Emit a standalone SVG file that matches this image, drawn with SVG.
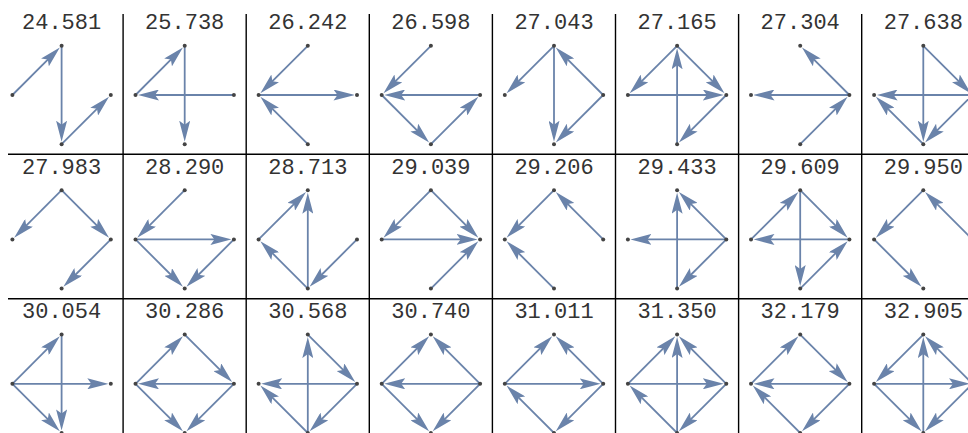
<svg xmlns="http://www.w3.org/2000/svg" xmlns:xlink="http://www.w3.org/1999/xlink" width="968" height="433" viewBox="0 0 968 433">
<style>
.lbl{font-family:"Liberation Mono","DejaVu Sans Mono",monospace;font-size:22px;fill:#333;text-anchor:middle}
.e{stroke:#6A83AA;stroke-width:1.8;fill:none;marker-end:url(#ah)}
.n{fill:#444}
.div{stroke:#000;stroke-width:1.4}
</style>
<defs>
<marker id="ah" markerUnits="userSpaceOnUse" viewBox="0 0 21 11" markerWidth="21" markerHeight="11" refX="11" refY="5.5" orient="auto">
<path d="M21,5.5 L0,0 L4,5.5 L0,11 Z" fill="#6A83AA"/>
</marker>
<g id="nodes">
<circle class="n" cx="0" cy="-49.2" r="2"/>
<circle class="n" cx="-49.2" cy="0" r="2"/>
<circle class="n" cx="49.2" cy="0" r="2"/>
<circle class="n" cx="0" cy="49.2" r="2"/>
</g>
</defs>
<g id="dividers">
<line class="div" x1="123.1" y1="14" x2="123.1" y2="433"/>
<line class="div" x1="246.2" y1="14" x2="246.2" y2="433"/>
<line class="div" x1="369.3" y1="14" x2="369.3" y2="433"/>
<line class="div" x1="492.4" y1="14" x2="492.4" y2="433"/>
<line class="div" x1="615.5" y1="14" x2="615.5" y2="433"/>
<line class="div" x1="738.6" y1="14" x2="738.6" y2="433"/>
<line class="div" x1="861.7" y1="14" x2="861.7" y2="433"/>
<line class="div" x1="8" y1="154.3" x2="968" y2="154.3"/>
<line class="div" x1="8" y1="298.7" x2="968" y2="298.7"/>
</g>

<!-- Row 1 -->
<g id="c1" transform="translate(61.6,95)">
<text class="lbl" x="0" y="-65.7">24.581</text>
<g class="connectors">
<line class="e" x1="-49.2" y1="0" x2="-8.84" y2="-40.36"/>
<line class="e" x1="0" y1="-49.2" x2="0" y2="36.7"/>
<line class="e" x1="0" y1="49.2" x2="40.36" y2="8.84"/>
</g>
<use xlink:href="#nodes"/>
</g>
<g id="c2" transform="translate(184.7,95)">
<text class="lbl" x="0" y="-65.7">25.738</text>
<g class="connectors">
<line class="e" x1="-49.2" y1="0" x2="-8.84" y2="-40.36"/>
<line class="e" x1="49.2" y1="0" x2="-36.7" y2="0"/>
<line class="e" x1="0" y1="-49.2" x2="0" y2="36.7"/>
</g>
<use xlink:href="#nodes"/>
</g>
<g id="c3" transform="translate(307.8,95)">
<text class="lbl" x="0" y="-65.7">26.242</text>
<g class="connectors">
<line class="e" x1="0" y1="-49.2" x2="-40.36" y2="-8.84"/>
<line class="e" x1="-49.2" y1="0" x2="36.7" y2="0"/>
<line class="e" x1="0" y1="49.2" x2="-40.36" y2="8.84"/>
</g>
<use xlink:href="#nodes"/>
</g>
<g id="c4" transform="translate(430.9,95)">
<text class="lbl" x="0" y="-65.7">26.598</text>
<g class="connectors">
<line class="e" x1="0" y1="-49.2" x2="-40.36" y2="-8.84"/>
<line class="e" x1="49.2" y1="0" x2="-36.7" y2="0"/>
<line class="e" x1="-49.2" y1="0" x2="-8.84" y2="40.36"/>
<line class="e" x1="0" y1="49.2" x2="40.36" y2="8.84"/>
</g>
<use xlink:href="#nodes"/>
</g>
<g id="c5" transform="translate(554,95)">
<text class="lbl" x="0" y="-65.7">27.043</text>
<g class="connectors">
<line class="e" x1="0" y1="-49.2" x2="-40.36" y2="-8.84"/>
<line class="e" x1="0" y1="-49.2" x2="0" y2="36.7"/>
<line class="e" x1="49.2" y1="0" x2="8.84" y2="-40.36"/>
<line class="e" x1="49.2" y1="0" x2="8.84" y2="40.36"/>
</g>
<use xlink:href="#nodes"/>
</g>
<g id="c6" transform="translate(677.1,95)">
<text class="lbl" x="0" y="-65.7">27.165</text>
<g class="connectors">
<line class="e" x1="0" y1="-49.2" x2="-40.36" y2="-8.84"/>
<line class="e" x1="0" y1="-49.2" x2="40.36" y2="-8.84"/>
<line class="e" x1="-49.2" y1="0" x2="36.7" y2="0"/>
<line class="e" x1="0" y1="49.2" x2="0" y2="-36.7"/>
<line class="e" x1="49.2" y1="0" x2="8.84" y2="40.36"/>
</g>
<use xlink:href="#nodes"/>
</g>
<g id="c7" transform="translate(800.2,95)">
<text class="lbl" x="0" y="-65.7">27.304</text>
<g class="connectors">
<line class="e" x1="49.2" y1="0" x2="8.84" y2="-40.36"/>
<line class="e" x1="49.2" y1="0" x2="-36.7" y2="0"/>
<line class="e" x1="0" y1="49.2" x2="40.36" y2="8.84"/>
</g>
<use xlink:href="#nodes"/>
</g>
<g id="c8" transform="translate(923.3,95)">
<text class="lbl" x="0" y="-65.7">27.638</text>
<g class="connectors">
<line class="e" x1="0" y1="-49.2" x2="40.36" y2="-8.84"/>
<line class="e" x1="49.2" y1="0" x2="-36.7" y2="0"/>
<line class="e" x1="0" y1="-49.2" x2="0" y2="36.7"/>
<line class="e" x1="49.2" y1="0" x2="8.84" y2="40.36"/>
<line class="e" x1="0" y1="49.2" x2="-40.36" y2="8.84"/>
</g>
<use xlink:href="#nodes"/>
</g>

<!-- Row 2 -->
<g id="c9" transform="translate(61.6,239.4)">
<text class="lbl" x="0" y="-65.7">27.983</text>
<g class="connectors">
<line class="e" x1="0" y1="-49.2" x2="-40.36" y2="-8.84"/>
<line class="e" x1="0" y1="-49.2" x2="40.36" y2="-8.84"/>
<line class="e" x1="49.2" y1="0" x2="8.84" y2="40.36"/>
</g>
<use xlink:href="#nodes"/>
</g>
<g id="c10" transform="translate(184.7,239.4)">
<text class="lbl" x="0" y="-65.7">28.290</text>
<g class="connectors">
<line class="e" x1="0" y1="-49.2" x2="-40.36" y2="-8.84"/>
<line class="e" x1="-49.2" y1="0" x2="36.7" y2="0"/>
<line class="e" x1="-49.2" y1="0" x2="-8.84" y2="40.36"/>
<line class="e" x1="49.2" y1="0" x2="8.84" y2="40.36"/>
</g>
<use xlink:href="#nodes"/>
</g>
<g id="c11" transform="translate(307.8,239.4)">
<text class="lbl" x="0" y="-65.7">28.713</text>
<g class="connectors">
<line class="e" x1="-49.2" y1="0" x2="-8.84" y2="-40.36"/>
<line class="e" x1="0" y1="49.2" x2="0" y2="-36.7"/>
<line class="e" x1="0" y1="49.2" x2="-40.36" y2="8.84"/>
<line class="e" x1="49.2" y1="0" x2="8.84" y2="40.36"/>
</g>
<use xlink:href="#nodes"/>
</g>
<g id="c12" transform="translate(430.9,239.4)">
<text class="lbl" x="0" y="-65.7">29.039</text>
<g class="connectors">
<line class="e" x1="0" y1="-49.2" x2="-40.36" y2="-8.84"/>
<line class="e" x1="0" y1="-49.2" x2="40.36" y2="-8.84"/>
<line class="e" x1="-49.2" y1="0" x2="36.7" y2="0"/>
<line class="e" x1="0" y1="49.2" x2="40.36" y2="8.84"/>
</g>
<use xlink:href="#nodes"/>
</g>
<g id="c13" transform="translate(554,239.4)">
<text class="lbl" x="0" y="-65.7">29.206</text>
<g class="connectors">
<line class="e" x1="0" y1="-49.2" x2="-40.36" y2="-8.84"/>
<line class="e" x1="49.2" y1="0" x2="8.84" y2="-40.36"/>
<line class="e" x1="0" y1="49.2" x2="-40.36" y2="8.84"/>
</g>
<use xlink:href="#nodes"/>
</g>
<g id="c14" transform="translate(677.1,239.4)">
<text class="lbl" x="0" y="-65.7">29.433</text>
<g class="connectors">
<line class="e" x1="0" y1="49.2" x2="0" y2="-36.7"/>
<line class="e" x1="49.2" y1="0" x2="8.84" y2="-40.36"/>
<line class="e" x1="49.2" y1="0" x2="-36.7" y2="0"/>
<line class="e" x1="49.2" y1="0" x2="8.84" y2="40.36"/>
</g>
<use xlink:href="#nodes"/>
</g>
<g id="c15" transform="translate(800.2,239.4)">
<text class="lbl" x="0" y="-65.7">29.609</text>
<g class="connectors">
<line class="e" x1="-49.2" y1="0" x2="-8.84" y2="-40.36"/>
<line class="e" x1="0" y1="-49.2" x2="40.36" y2="-8.84"/>
<line class="e" x1="49.2" y1="0" x2="-36.7" y2="0"/>
<line class="e" x1="0" y1="-49.2" x2="0" y2="36.7"/>
<line class="e" x1="0" y1="49.2" x2="40.36" y2="8.84"/>
</g>
<use xlink:href="#nodes"/>
</g>
<g id="c16" transform="translate(923.3,239.4)">
<text class="lbl" x="0" y="-65.7">29.950</text>
<g class="connectors">
<line class="e" x1="0" y1="-49.2" x2="-40.36" y2="-8.84"/>
<line class="e" x1="49.2" y1="0" x2="8.84" y2="-40.36"/>
<line class="e" x1="-49.2" y1="0" x2="-8.84" y2="40.36"/>
</g>
<use xlink:href="#nodes"/>
</g>

<!-- Row 3 -->
<g id="c17" transform="translate(61.6,383.8)">
<text class="lbl" x="0" y="-65.7">30.054</text>
<g class="connectors">
<line class="e" x1="-49.2" y1="0" x2="-8.84" y2="-40.36"/>
<line class="e" x1="-49.2" y1="0" x2="36.7" y2="0"/>
<line class="e" x1="-49.2" y1="0" x2="-8.84" y2="40.36"/>
<line class="e" x1="0" y1="-49.2" x2="0" y2="36.7"/>
</g>
<use xlink:href="#nodes"/>
</g>
<g id="c18" transform="translate(184.7,383.8)">
<text class="lbl" x="0" y="-65.7">30.286</text>
<g class="connectors">
<line class="e" x1="-49.2" y1="0" x2="-8.84" y2="-40.36"/>
<line class="e" x1="0" y1="-49.2" x2="40.36" y2="-8.84"/>
<line class="e" x1="49.2" y1="0" x2="-36.7" y2="0"/>
<line class="e" x1="-49.2" y1="0" x2="-8.84" y2="40.36"/>
<line class="e" x1="49.2" y1="0" x2="8.84" y2="40.36"/>
</g>
<use xlink:href="#nodes"/>
</g>
<g id="c19" transform="translate(307.8,383.8)">
<text class="lbl" x="0" y="-65.7">30.568</text>
<g class="connectors">
<line class="e" x1="0" y1="49.2" x2="0" y2="-36.7"/>
<line class="e" x1="0" y1="-49.2" x2="40.36" y2="-8.84"/>
<line class="e" x1="49.2" y1="0" x2="-36.7" y2="0"/>
<line class="e" x1="49.2" y1="0" x2="8.84" y2="40.36"/>
<line class="e" x1="0" y1="49.2" x2="-40.36" y2="8.84"/>
</g>
<use xlink:href="#nodes"/>
</g>
<g id="c20" transform="translate(430.9,383.8)">
<text class="lbl" x="0" y="-65.7">30.740</text>
<g class="connectors">
<line class="e" x1="-49.2" y1="0" x2="-8.84" y2="-40.36"/>
<line class="e" x1="49.2" y1="0" x2="8.84" y2="-40.36"/>
<line class="e" x1="49.2" y1="0" x2="-36.7" y2="0"/>
<line class="e" x1="-49.2" y1="0" x2="-8.84" y2="40.36"/>
<line class="e" x1="49.2" y1="0" x2="8.84" y2="40.36"/>
</g>
<use xlink:href="#nodes"/>
</g>
<g id="c21" transform="translate(554,383.8)">
<text class="lbl" x="0" y="-65.7">31.011</text>
<g class="connectors">
<line class="e" x1="-49.2" y1="0" x2="-8.84" y2="-40.36"/>
<line class="e" x1="49.2" y1="0" x2="8.84" y2="-40.36"/>
<line class="e" x1="-49.2" y1="0" x2="36.7" y2="0"/>
<line class="e" x1="0" y1="49.2" x2="-40.36" y2="8.84"/>
<line class="e" x1="49.2" y1="0" x2="8.84" y2="40.36"/>
</g>
<use xlink:href="#nodes"/>
</g>
<g id="c22" transform="translate(677.1,383.8)">
<text class="lbl" x="0" y="-65.7">31.350</text>
<g class="connectors">
<line class="e" x1="-49.2" y1="0" x2="-8.84" y2="-40.36"/>
<line class="e" x1="0" y1="49.2" x2="0" y2="-36.7"/>
<line class="e" x1="49.2" y1="0" x2="8.84" y2="-40.36"/>
<line class="e" x1="-49.2" y1="0" x2="36.7" y2="0"/>
<line class="e" x1="0" y1="49.2" x2="-40.36" y2="8.84"/>
<line class="e" x1="49.2" y1="0" x2="8.84" y2="40.36"/>
</g>
<use xlink:href="#nodes"/>
</g>
<g id="c23" transform="translate(800.2,383.8)">
<text class="lbl" x="0" y="-65.7">32.179</text>
<g class="connectors">
<line class="e" x1="-49.2" y1="0" x2="-8.84" y2="-40.36"/>
<line class="e" x1="0" y1="-49.2" x2="40.36" y2="-8.84"/>
<line class="e" x1="49.2" y1="0" x2="-36.7" y2="0"/>
<line class="e" x1="0" y1="49.2" x2="-40.36" y2="8.84"/>
<line class="e" x1="49.2" y1="0" x2="8.84" y2="40.36"/>
</g>
<use xlink:href="#nodes"/>
</g>
<g id="c24" transform="translate(923.3,383.8)">
<text class="lbl" x="0" y="-65.7">32.905</text>
<g class="connectors">
<line class="e" x1="0" y1="-49.2" x2="-40.36" y2="-8.84"/>
<line class="e" x1="0" y1="49.2" x2="0" y2="-36.7"/>
<line class="e" x1="49.2" y1="0" x2="8.84" y2="-40.36"/>
<line class="e" x1="-49.2" y1="0" x2="36.7" y2="0"/>
<line class="e" x1="-49.2" y1="0" x2="-8.84" y2="40.36"/>
<line class="e" x1="49.2" y1="0" x2="8.84" y2="40.36"/>
</g>
<use xlink:href="#nodes"/>
</g>
</svg>
